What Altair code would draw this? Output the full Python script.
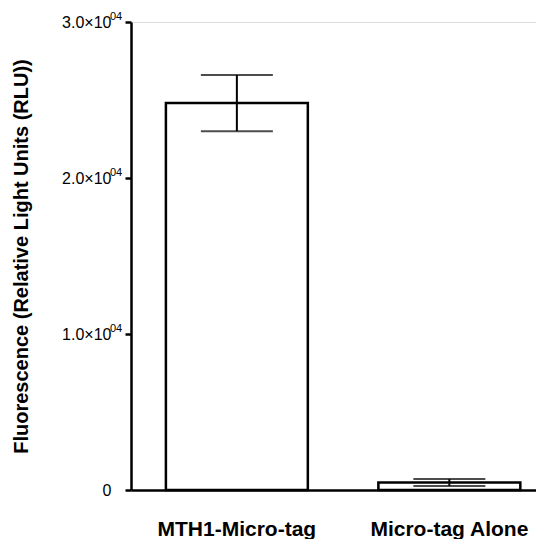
import altair as alt
import pandas as pd

categories = ["MTH1-Micro-tag", "Micro-tag Alone"]
means = [24800, 480]
errors = [1800, 220]
y_ticks = [0, 10000, 20000, 30000]
exponent = "04"

df = pd.DataFrame({
    "cat": categories,
    "mean": means,
    "lo": [m - e for m, e in zip(means, errors)],
    "hi": [m + e for m, e in zip(means, errors)],
})
sup_df = pd.DataFrame({"v": [v for v in y_ticks if v > 0], "t": exponent})

FONT = "Liberation Sans"

x = alt.X(
    "cat:N",
    sort=categories,
    title=None,
    scale=alt.Scale(paddingInner=0.332, paddingOuter=0.119, align=0.69),
    axis=alt.Axis(
        ticks=False,
        labelAngle=0,
        labelFont=FONT,
        labelFontSize=21,
        labelFontWeight="bold",
        labelColor="black",
        labelPadding=28,
        domainColor="black",
        domainWidth=2.5,
    ),
)

yscale = alt.Scale(domain=[0, 30000], nice=False, zero=True)
yaxis = alt.Axis(
    values=y_ticks,
    title="Fluorescence (Relative Light Units (RLU))",
    titleFont=FONT,
    titleFontSize=20,
    titleFontWeight="bold",
    titleColor="black",
    titlePadding=30,
    labelExpr="datum.value == 0 ? '0' : format(datum.value / 10000, '.1f') + '×10'",
    labelFont=FONT,
    labelFontSize=16,
    labelColor="black",
    labelPadding=14,
    tickSize=6,
    tickWidth=2.5,
    tickColor="black",
    domainColor="black",
    domainWidth=2.5,
    grid=False,
)

bars = alt.Chart(df).mark_bar(
    fill="white", stroke="black", strokeWidth=2.5
).encode(
    x=x,
    y=alt.Y("mean:Q", scale=yscale, axis=yaxis),
)

rule = alt.Chart(df).mark_rule(color="black", strokeWidth=2).encode(
    x=alt.X("cat:N", sort=categories),
    y="lo:Q",
    y2="hi:Q",
)

cap_hi = alt.Chart(df).mark_tick(color="black", thickness=2, size=72).encode(
    x=alt.X("cat:N", sort=categories),
    y="hi:Q",
)
cap_lo = alt.Chart(df).mark_tick(color="black", thickness=2, size=72).encode(
    x=alt.X("cat:N", sort=categories),
    y="lo:Q",
)

sup = alt.Chart(sup_df).mark_text(
    font=FONT, fontSize=11, color="black", align="left", baseline="middle", dy=-5
).encode(
    x=alt.value(-21),
    y=alt.Y("v:Q"),
    text="t:N",
)

chart = alt.layer(bars, rule, cap_hi, cap_lo, sup).properties(
    width=405,
    height=468,
    autosize=alt.AutoSizeParams(type="none"),
    padding={"left": 123, "top": 14, "right": 0, "bottom": 49},
).configure_view(stroke=None).configure(background="white")

chart.save("out.html", embed_options={"renderer": "svg", "actions": False})
